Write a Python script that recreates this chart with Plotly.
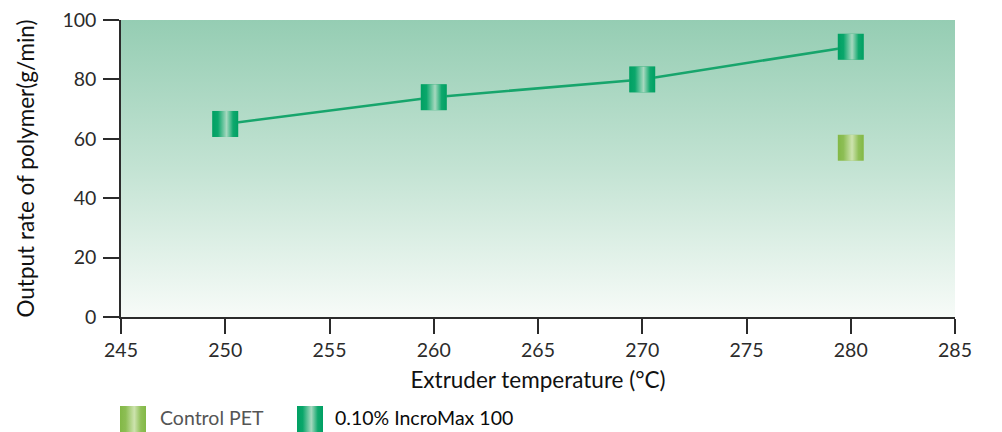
import base64
import plotly.graph_objects as go

# ---- data -------------------------------------------------------------
temps_incromax = [250, 260, 270, 280]
output_incromax = [65, 74, 80, 91]
temps_control = [280]
output_control = [57]

series_names = ["Control PET", "0.10% IncroMax 100"]
x_ticks = [245, 250, 255, 260, 265, 270, 275, 280, 285]
y_ticks = [0, 20, 40, 60, 80, 100]

# ---- styling ----------------------------------------------------------
W, H = 1002, 432
M_L, M_R, M_T, M_B = 121, 47, 20, 115
PLOT_W = W - M_L - M_R
PLOT_H = H - M_T - M_B
X_RANGE = (245, 285)
Y_RANGE = (0, 100)

FONT = "Lato, 'Open Sans', sans-serif"
INK = "#2b2b2b"
LINE_GREEN = "#17a56c"
MARK_PX = 26

GREEN_STOPS = [(0, "#00a063"), (0.22, "#0aa76b"), (0.55, "#a6d8bf"), (0.8, "#0fa86d"), (1, "#00a063")]
OLIVE_STOPS = [(0, "#82b846"), (0.22, "#8dbe55"), (0.55, "#cde3ae"), (0.8, "#90c058"), (1, "#82b846")]


def gradient_svg(stops, vertical=False):
    coords = 'x1="0" y1="0" x2="0" y2="1"' if vertical else 'x1="0" y1="0" x2="1" y2="0"'
    stop_tags = "".join(
        f'<stop offset="{o}" stop-color="{c}"/>' for o, c in stops
    )
    svg = (
        '<svg xmlns="http://www.w3.org/2000/svg" width="100" height="100" '
        'preserveAspectRatio="none" viewBox="0 0 100 100">'
        f'<defs><linearGradient id="g" {coords}>{stop_tags}</linearGradient></defs>'
        '<rect x="0" y="0" width="100" height="100" fill="url(#g)"/></svg>'
    )
    return "data:image/svg+xml;base64," + base64.b64encode(svg.encode()).decode()


green_swatch = gradient_svg(GREEN_STOPS)
olive_swatch = gradient_svg(OLIVE_STOPS)
bg_fill = gradient_svg([(0, "#95cdb3"), (0.5, "#c3e3d3"), (1, "#f7fbf8")], vertical=True)

# data units that correspond to one marker's pixel size
mark_dx = MARK_PX * (X_RANGE[1] - X_RANGE[0]) / PLOT_W
mark_dy = MARK_PX * (Y_RANGE[1] - Y_RANGE[0]) / PLOT_H


def px_to_paper_x(px):
    return (px - M_L) / PLOT_W


def px_to_paper_y(py):
    return (H - M_B - py) / PLOT_H


fig = go.Figure()

fig.add_trace(go.Scatter(
    x=temps_incromax, y=output_incromax, mode="lines+markers",
    name=series_names[1],
    line=dict(color=LINE_GREEN, width=2.5),
    marker=dict(symbol="square", size=MARK_PX, color="#2fae78", line=dict(width=0)),
    showlegend=False,
))
fig.add_trace(go.Scatter(
    x=temps_control, y=output_control, mode="markers",
    name=series_names[0],
    marker=dict(symbol="square", size=MARK_PX, color="#a4c97a", line=dict(width=0)),
    showlegend=False,
))

images = [dict(
    source=bg_fill, xref="paper", yref="paper", x=0, y=1, sizex=1, sizey=1,
    xanchor="left", yanchor="top", sizing="stretch", layer="below",
)]

# gradient-filled square markers placed on the data axes
for xs, ys, src in ((temps_incromax, output_incromax, green_swatch),
                    (temps_control, output_control, olive_swatch)):
    for xv, yv in zip(xs, ys):
        images.append(dict(
            source=src, xref="x", yref="y", x=xv, y=yv,
            sizex=mark_dx, sizey=mark_dy, xanchor="center", yanchor="middle",
            sizing="stretch", layer="above",
        ))

# legend row below the axis
legend_items = [
    (olive_swatch, series_names[0], 120, 158, "#555555", 19.5),
    (green_swatch, series_names[1], 297, 333, "#0a0a0a", 19.5),
]
annotations = []
for src, label, sw_x, tx_x, col, fs in legend_items:
    images.append(dict(
        source=src, xref="paper", yref="paper",
        x=px_to_paper_x(sw_x), y=px_to_paper_y(406),
        sizex=26 / PLOT_W, sizey=26 / PLOT_H,
        xanchor="left", yanchor="top", sizing="stretch", layer="above",
    ))
    annotations.append(dict(
        text=label, xref="paper", yref="paper",
        x=px_to_paper_x(tx_x), y=px_to_paper_y(418),
        xanchor="left", yanchor="middle", showarrow=False,
        font=dict(family=FONT, size=fs, color=col),
    ))

axis_common = dict(
    showgrid=False, zeroline=False, showline=True, linecolor=INK, linewidth=1.5,
    ticks="outside", tickcolor=INK, tickwidth=1.5, automargin=False,
    tickfont=dict(family=FONT, size=19.5, color=INK),
    title_font=dict(family=FONT, size=22.5, color="#111111"),
)

fig.update_layout(
    width=W, height=H,
    margin=dict(l=M_L, r=M_R, t=M_T, b=M_B),
    paper_bgcolor="white", plot_bgcolor="white",
    images=images, annotations=annotations,
    xaxis=dict(axis_common, range=list(X_RANGE), tickvals=x_ticks, ticklen=15,
               title=dict(text="Extruder temperature (°C)", standoff=12)),
    yaxis=dict(axis_common, range=list(Y_RANGE), tickvals=y_ticks, ticklen=16,
               ticklabelstandoff=3,
               title=dict(text="Output rate of polymer(g/min)", standoff=22)),
    showlegend=False,
)

fig.write_html("out.html")
